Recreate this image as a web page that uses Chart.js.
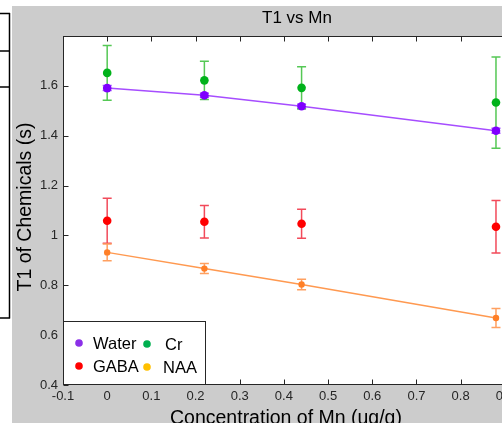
<!DOCTYPE html>
<html>
<head>
<meta charset="utf-8">
<title>T1 vs Mn</title>
<script src="https://cdn.jsdelivr.net/npm/chart.js@4.4.1/dist/chart.umd.min.js"></script>
<style>
    html, body { margin: 0; padding: 0; width: 502px; height: 423px; overflow: hidden; background: #fff; }
    #wrap { position: absolute; left: 0; top: 0; width: 600px; height: 423px; }
</style>
</head>
<body>
<div id="wrap"><canvas id="t1Chart" width="600" height="423"></canvas></div>
<script>
// Data
const concentrations = [0, 0.22, 0.44, 0.88];
const waterT1 = [1.591, 1.562, 1.518, 1.42];
const waterErr = [0.01, 0.008, 0.008, 0.01];
const crT1 = [1.652, 1.622, 1.592, 1.533];
const crErr = [0.11, 0.077, 0.085, 0.183];
const gabaT1 = [1.059, 1.055, 1.047, 1.035];
const gabaErr = [0.09, 0.065, 0.058, 0.105];
const naaT1 = [0.932, 0.867, 0.803, 0.669];
const naaErr = [0.034, 0.02, 0.021, 0.038];

const xTicks = [-0.1, 0, 0.1, 0.2, 0.3, 0.4, 0.5, 0.6, 0.7, 0.8, 0.9, 1.0];
const yTicks = [0.4, 0.6, 0.8, 1, 1.2, 1.4, 1.6];
const legendNames = ["Water", "Cr", "GABA", "NAA"];

const FONT = '"Liberation Sans", Arial, sans-serif';

const series = [
    { label: "Water", values: waterT1, errors: waterErr, color: "#7f00ff", bar: "#a050ff", line: "#a64dff", radius: 4.3, legend: "#8b30e8" },
    { label: "Cr", values: crT1, errors: crErr, color: "#00b21a", bar: "#55c855", line: null, radius: 4.3, legend: "#00b050" },
    { label: "GABA", values: gabaT1, errors: gabaErr, color: "#ff0000", bar: "#f24a5a", line: null, radius: 4.3, legend: "#ff0000" },
    { label: "NAA", values: naaT1, errors: naaErr, color: "#ff7f27", bar: "#ffa060", line: "#ff9950", radius: 3.2, legend: "#ffc000" }
];

function toPoints(values) {
    return concentrations.map((c, i) => ({ x: c, y: values[i] }));
}

// Backgrounds, error bars, frame, legend and texts in MATLAB style
const matlabLook = {
    id: "matlabLook",
    beforeDraw(chart) {
        const ctx = chart.ctx;
        const a = chart.chartArea;
        ctx.save();
        ctx.fillStyle = "#ffffff";
        ctx.fillRect(0, 0, chart.width, chart.height);
        ctx.fillStyle = "#cccccc";
        ctx.fillRect(12, 6, chart.width - 12, chart.height - 6);
        ctx.fillStyle = "#ffffff";
        ctx.fillRect(a.left, a.top, a.right - a.left, a.bottom - a.top);

        // edge of the neighbouring figure on the left
        ctx.strokeStyle = "#000000";
        ctx.lineWidth = 1.5;
        ctx.beginPath();
        ctx.moveTo(9.5, 13);
        ctx.lineTo(9.5, 318.5);
        [13.5, 51, 87, 318].forEach(y => {
            ctx.moveTo(0, y);
            ctx.lineTo(10, y);
        });
        ctx.stroke();
        ctx.restore();
    },
    beforeDatasetsDraw(chart) {
        const ctx = chart.ctx;
        const xs = chart.scales.x;
        const ys = chart.scales.y;
        ctx.save();
        ctx.lineWidth = 1.5;
        series.forEach(s => {
            ctx.strokeStyle = s.bar;
            ctx.beginPath();
            concentrations.forEach((c, i) => {
                const px = xs.getPixelForValue(c);
                const top = ys.getPixelForValue(s.values[i] + s.errors[i]);
                const bot = ys.getPixelForValue(s.values[i] - s.errors[i]);
                ctx.moveTo(px, top);
                ctx.lineTo(px, bot);
                ctx.moveTo(px - 4.5, top);
                ctx.lineTo(px + 4.5, top);
                ctx.moveTo(px - 4.5, bot);
                ctx.lineTo(px + 4.5, bot);
            });
            ctx.stroke();
        });
        ctx.restore();
    },
    afterDraw(chart) {
        const ctx = chart.ctx;
        const a = chart.chartArea;
        const xs = chart.scales.x;
        const ys = chart.scales.y;
        ctx.save();

        // axes box with inward ticks
        ctx.strokeStyle = "#262626";
        ctx.lineWidth = 1;
        const L = Math.round(a.left) + 0.5, R = Math.round(a.right) - 0.5;
        const T = Math.round(a.top) + 0.5, B = Math.round(a.bottom) - 0.5;
        ctx.strokeRect(L, T, R - L, B - T);
        ctx.beginPath();
        xTicks.forEach(v => {
            const px = Math.round(xs.getPixelForValue(v)) + 0.5;
            ctx.moveTo(px, B); ctx.lineTo(px, B - 5);
            ctx.moveTo(px, T); ctx.lineTo(px, T + 5);
        });
        yTicks.forEach(v => {
            const py = Math.round(ys.getPixelForValue(v)) + 0.5;
            ctx.moveTo(L, py); ctx.lineTo(L + 5, py);
            ctx.moveTo(R, py); ctx.lineTo(R - 5, py);
        });
        ctx.stroke();

        // legend box
        ctx.fillStyle = "#ffffff";
        ctx.fillRect(64, 322, 141, 62);
        ctx.strokeStyle = "#262626";
        ctx.strokeRect(63.5, 321.5, 142, 63);
        const spots = [
            { dx: 79, tx: 93, y: 343 },
            { dx: 147, tx: 165, y: 344 },
            { dx: 79, tx: 93, y: 366 },
            { dx: 147, tx: 163, y: 367 }
        ];
        ctx.font = "16.5px " + FONT;
        ctx.textBaseline = "middle";
        ctx.textAlign = "left";
        series.forEach((s, i) => {
            const p = spots[i];
            ctx.fillStyle = s.legend;
            ctx.beginPath();
            ctx.arc(p.dx, p.y, 3.8, 0, Math.PI * 2);
            ctx.fill();
            ctx.fillStyle = "#000000";
            ctx.fillText(legendNames[i], p.tx, p.y + 1);
        });

        // title and axis titles
        ctx.fillStyle = "#000000";
        ctx.font = "17px " + FONT;
        ctx.textAlign = "center";
        ctx.textBaseline = "middle";
        ctx.fillText("T1 vs Mn", 297, 18);

        ctx.font = "19.5px " + FONT;
        ctx.textAlign = "left";
        ctx.textBaseline = "alphabetic";
        ctx.fillText("Concentration of Mn (ug/g)", 170, 424);

        ctx.translate(31, 207);
        ctx.rotate(-Math.PI / 2);
        ctx.textAlign = "center";
        ctx.fillText("T1 of Chemicals (s)", 0, 0);
        ctx.restore();
    }
};

const datasets = series.map(s => ({
    label: s.label,
    data: toPoints(s.values),
    showLine: s.line !== null,
    borderColor: s.line || s.color,
    borderWidth: 1.5,
    backgroundColor: s.color,
    pointBackgroundColor: s.color,
    pointBorderColor: s.color,
    pointBorderWidth: 0,
    pointRadius: s.radius,
    pointHoverRadius: s.radius
}));

new Chart(document.getElementById("t1Chart").getContext("2d"), {
    type: "scatter",
    data: { datasets: datasets },
    options: {
        responsive: false,
        animation: false,
        layout: { padding: { top: 36, left: 0, right: 51, bottom: 0 } },
        plugins: {
            legend: { display: false },
            tooltip: { enabled: false },
            title: { display: false }
        },
        scales: {
            x: {
                type: "linear",
                min: -0.1,
                max: 1.0,
                afterBuildTicks: scale => { scale.ticks = xTicks.map(v => ({ value: v })); },
                afterFit: scale => { scale.height = 38; },
                grid: { display: false, drawTicks: false },
                border: { display: false },
                ticks: {
                    autoSkip: false,
                    maxRotation: 0,
                    padding: 4,
                    color: "#262626",
                    font: { family: FONT, size: 13 },
                    callback: v => String(Math.round(v * 10) / 10)
                }
            },
            y: {
                type: "linear",
                min: 0.4,
                max: 1.8,
                afterBuildTicks: scale => { scale.ticks = yTicks.map(v => ({ value: v })); },
                afterFit: scale => { scale.width = 63; },
                grid: { display: false, drawTicks: false },
                border: { display: false },
                ticks: {
                    autoSkip: false,
                    padding: 5,
                    color: "#262626",
                    font: { family: FONT, size: 13 },
                    callback: v => String(Math.round(v * 10) / 10)
                }
            }
        }
    },
    plugins: [matlabLook]
});
</script>
</body>
</html>
